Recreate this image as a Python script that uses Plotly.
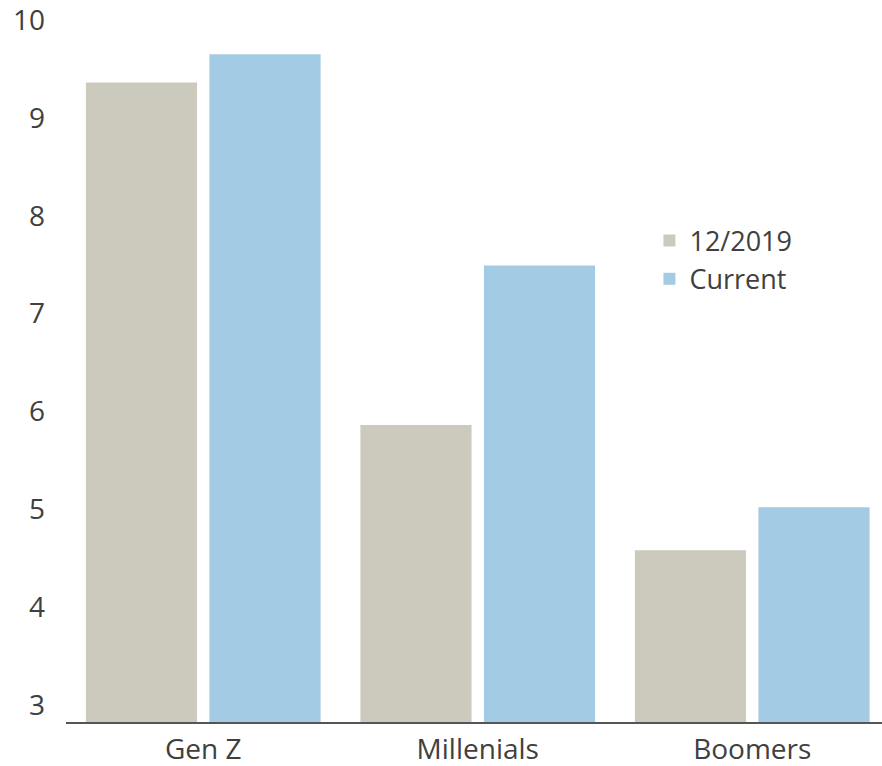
import plotly.graph_objects as go

categories = ["Gen Z", "Millenials", "Boomers"]
series_names = ["12/2019", "Current"]
values_2019 = [9.36, 5.86, 4.58]
values_current = [9.65, 7.49, 5.02]
y_ticks = [3, 4, 5, 6, 7, 8, 9, 10]

colors = ["#CCCABD", "#A3CBE3"]

fig = go.Figure()
for name, vals, col in zip(series_names, [values_2019, values_current], colors):
    fig.add_trace(go.Bar(x=categories, y=vals, name=name, marker=dict(color=col, line=dict(width=0))))

W, H = 882, 766
ml, mr, mt, mb = 66, 0, 5, 44
fig.update_layout(
    width=W, height=H,
    margin=dict(l=ml, r=mr, t=mt, b=mb, autoexpand=False),
    paper_bgcolor="white", plot_bgcolor="white",
    barmode="group", bargap=0.1, bargroupgap=0.1,
    font=dict(family="Open Sans", size=28, color="#404040"),
    legend=dict(x=0.715, y=0.705, xanchor="left", yanchor="top",
                font=dict(size=27, color="#404040"), bgcolor="rgba(0,0,0,0)",
                itemwidth=30, tracegroupgap=4),
    xaxis=dict(range=[-0.5, 2.4727], showline=True, linecolor="#555555", linewidth=1.5,
               ticks="", showgrid=False, zeroline=False, ticklabelstandoff=2,
               automargin=False, tickfont=dict(size=28), ticklabeloverflow="allow"),
    yaxis=dict(range=[2.826, 10.153], tickvals=y_ticks, showgrid=False, zeroline=False,
               showline=False, ticks="", ticklabelstandoff=20, automargin=False,
               tickfont=dict(size=28), ticklabeloverflow="allow"),
)

fig.write_html("out.html", config={"displayModeBar": False},
               post_script="document.body.style.margin='0';document.body.style.overflow='hidden';")
